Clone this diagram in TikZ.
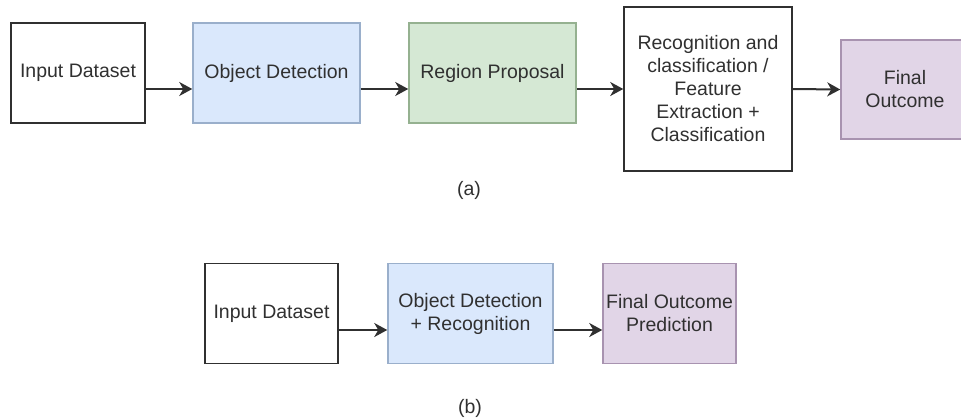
\documentclass[tikz,border=0pt]{standalone}
\usepackage{fontspec}
\setmainfont{Liberation Sans}
\usetikzlibrary{arrows.meta}
\definecolor{ink}{HTML}{303030}
\definecolor{blueF}{HTML}{DAE8FC}
\definecolor{blueD}{HTML}{9AAFCB}
\definecolor{greenF}{HTML}{D5E8D4}
\definecolor{greenD}{HTML}{95B190}
\definecolor{purpleF}{HTML}{E1D5E7}
\definecolor{purpleD}{HTML}{A893B0}
\begin{document}
\begin{tikzpicture}[x=1pt,y=-1pt,
  box/.style={rectangle, draw=ink, line width=1.5pt, fill=white, align=center,
    inner sep=0pt, text=ink, font=\fontsize{19.5}{23}\selectfont},
  bluebox/.style={box, draw=blueD, fill=blueF},
  greenbox/.style={box, draw=greenD, fill=greenF},
  purplebox/.style={box, draw=purpleD, fill=purpleF},
  flow/.style={draw=ink, line width=2pt,
    -{Stealth[length=13pt,width=14pt,inset=4pt]}},
  caption/.style={text=ink, font=\fontsize{19.5}{23}\selectfont, inner sep=0pt},
]
\clip (0,0) rectangle (961,418);

% (a) multi-stage pipeline
\node[box, minimum width=134pt, minimum height=100pt] (inA) at (78,73) {Input Dataset};
\node[bluebox, minimum width=167pt, minimum height=100pt] (detA) at (276.5,73) {Object Detection};
\node[greenbox, minimum width=167pt, minimum height=100pt] (regA) at (492.5,73) {Region Proposal};
\node[box, minimum width=168pt, minimum height=164pt] (recA) at (708,89)
  {Recognition and\\classification /\\Feature\\Extraction +\\Classification};
\node[purplebox, minimum width=128pt, minimum height=99pt] (finA) at (905,89.5) {Final\\Outcome};
\node[caption] (capA) at (469,190) {(a)};

\draw[flow] ([yshift=-16pt]inA.east) -- ([yshift=-16pt]detA.west);
\draw[flow] ([yshift=-16pt]detA.east) -- ([yshift=-16pt]regA.west);
\draw[flow] ([yshift=-16pt]regA.east) -- (recA.west);
\draw[flow] (recA.east) -- (finA.west);

% (b) single-stage pipeline
\node[box, minimum width=133pt, minimum height=100pt] (inB) at (271.5,313.5) {Input Dataset};
\node[bluebox, minimum width=165pt, minimum height=100pt] (detB) at (470.5,313.5)
  {Object Detection\\+ Recognition};
\node[purplebox, minimum width=133pt, minimum height=100pt] (finB) at (669.5,313.5)
  {Final Outcome\\Prediction};
\node[caption] (capB) at (470,408) {(b)};

\draw[flow] ([yshift=-16.5pt]inB.east) -- ([yshift=-16.5pt]detB.west);
\draw[flow] ([yshift=-16.5pt]detB.east) -- ([yshift=-16.5pt]finB.west);
\end{tikzpicture}
\end{document}
